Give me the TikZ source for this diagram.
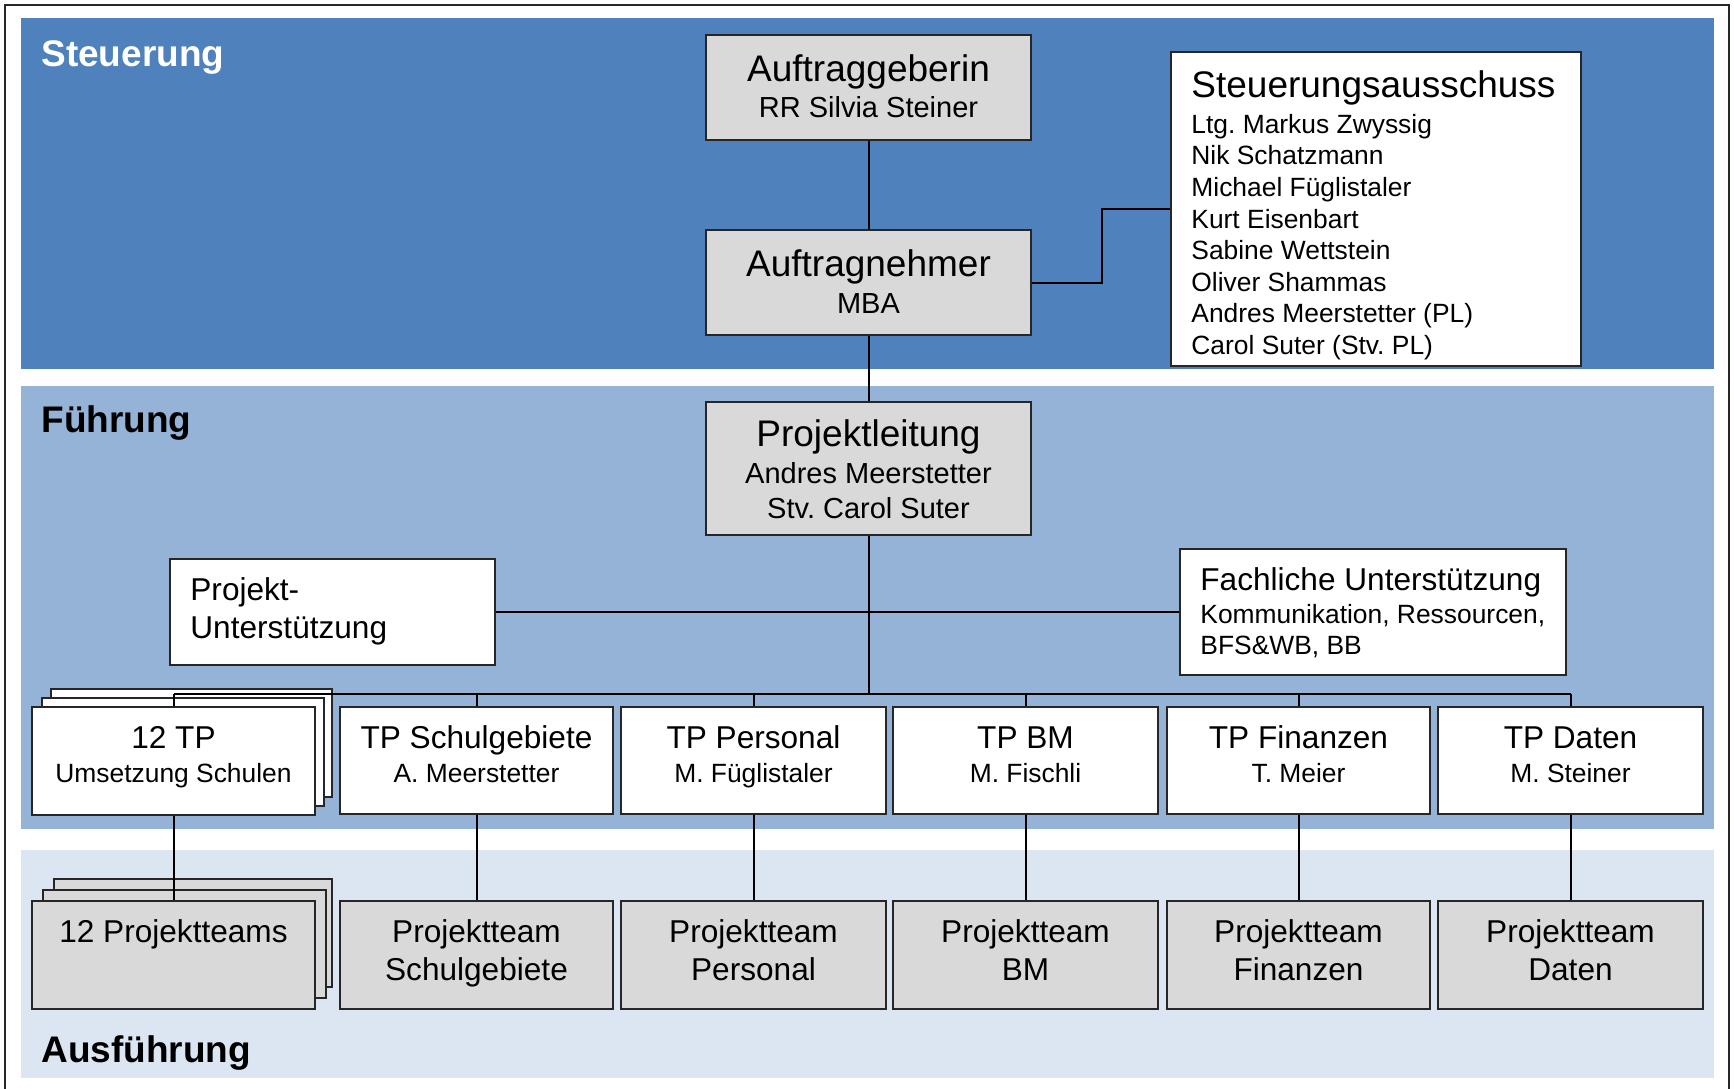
\documentclass[tikz,border=0pt]{standalone}
\usepackage{fontspec}
\setmainfont{Liberation Sans}
\usetikzlibrary{fit}
\definecolor{bandA}{HTML}{4F81BD}
\definecolor{bandB}{HTML}{95B3D7}
\definecolor{bandC}{HTML}{DCE6F2}
\definecolor{boxgrey}{HTML}{D9D9D9}
\definecolor{boxline}{HTML}{262626}
\frenchspacing
\begin{document}
\begin{tikzpicture}[x=0.5pt,y=-0.5pt,
  box/.style={draw=boxline, line width=0.75pt, rectangle, inner sep=0pt},
  gbox/.style={box, fill=boxgrey},
  wbox/.style={box, fill=white},
  conn/.style={draw=black, line width=1pt},
  txt/.style={inner sep=0pt, anchor=base, text=black},
  tA/.style={txt, font=\frenchspacing\fontsize{18.5}{22}\selectfont},
  tB/.style={txt, font=\frenchspacing\fontsize{14.5}{17}\selectfont},
  tC/.style={txt, font=\frenchspacing\fontsize{15.8}{19}\selectfont},
  tD/.style={txt, font=\frenchspacing\fontsize{13.2}{16}\selectfont},
  tS/.style={txt, anchor=base west, font=\fontsize{18.5}{22}\selectfont\bfseries},
]
\useasboundingbox (0,0) rectangle (1734,1088);
\fill[white] (0,0) rectangle (1734,1088);
% frame
\draw[line width=1pt, black!85] (5,1095) -- (5,5) -- (1729,5) -- (1729,1095);
% bands
\fill[bandA] (21,18) rectangle (1714,369);
\fill[bandB] (21,386) rectangle (1714,829);
\fill[bandC] (21,850) rectangle (1714,1078);
% section titles
\node[tS, text=white] (tSteuer) at (41,66) {Steuerung};
\node[tS] (tFuehr) at (41,432) {Führung};
\node[tS] (tAusf) at (41,1062) {Ausführung};

% Steuerung level
\node[gbox, fit={(706,35) (1031,140)}] (ag) {};
\node[tA] (agT) at (868.5,81) {Auftraggeberin};
\node[tB] (agS) at (868.5,117) {RR Silvia Steiner};

\node[gbox, fit={(706,230) (1031,335)}] (an) {};
\node[tA] (anT) at (868.5,276) {Auftragnehmer};
\node[tB] (anS) at (868.5,313) {MBA};

\node[wbox, fit={(1171,52) (1581,366)}] (sa) {};
\node[tA, anchor=base west] (saT) at (1191,97) {Steuerungsausschuss};
\foreach \n/\t in {0/Ltg. Markus Zwyssig,1/Nik Schatzmann,2/Michael Füglistaler,3/Kurt Eisenbart,4/Sabine Wettstein,5/Oliver Shammas,6/Andres Meerstetter (PL),7/Carol Suter (Stv. PL)}
  \node[tD, anchor=base west] (saM\n) at (1191,133.3+31.6*\n) {\t};

% Fuehrung level
\node[gbox, fit={(706,402) (1031,535)}] (pl) {};
\node[tA] (plT) at (868.5,446) {Projektleitung};
\node[tB] (plS1) at (868.5,483) {Andres Meerstetter};
\node[tB] (plS2) at (868.5,518) {Stv. Carol Suter};

\node[wbox, fit={(170,559) (495,665)}] (pu) {};
\node[tC, anchor=base west] (puT1) at (190,600) {Projekt-};
\node[tC, anchor=base west] (puT2) at (190,638) {Unterstützung};

\node[wbox, fit={(1180,549) (1566,675)}] (fu) {};
\node[tC, anchor=base west] (fuT) at (1200,590) {Fachliche Unterstützung};
\node[tD, anchor=base west] (fuS1) at (1200,623) {Kommunikation, Ressourcen,};
\node[tD, anchor=base west] (fuS2) at (1200,654) {BFS\&WB, BB};

% TP row
\path[wbox] (51,689) rectangle (332,797);
\path[wbox] (42,698) rectangle (324,806);
\node[wbox, fit={(32,707) (315,815)}] (tp0) {};
\node[wbox, fit={(340,707) (613,814)}] (tp1) {};
\node[wbox, fit={(621,707) (886,814)}] (tp2) {};
\node[wbox, fit={(893,707) (1158,814)}] (tp3) {};
\node[wbox, fit={(1167,707) (1430,814)}] (tp4) {};
\node[wbox, fit={(1438,707) (1703,814)}] (tp5) {};
\foreach \i/\a/\b in {0/12 TP/Umsetzung Schulen,1/TP Schulgebiete/A. Meerstetter,2/TP Personal/M. Füglistaler,3/TP BM/M. Fischli,4/TP Finanzen/T. Meier,5/TP Daten/M. Steiner}{
  \node[tC] (tp\i T) at (tp\i.center |- 0,748) {\a};
  \node[tD] (tp\i S) at (tp\i.center |- 0,782) {\b};
}

% Project team row
\path[gbox] (54,879) rectangle (332,987);
\path[gbox] (43,890) rectangle (326,998);
\node[gbox, fit={(32,901) (315,1009)}] (pt0) {};
\node[gbox, fit={(340,901) (613,1009)}] (pt1) {};
\node[gbox, fit={(621,901) (886,1009)}] (pt2) {};
\node[gbox, fit={(893,901) (1158,1009)}] (pt3) {};
\node[gbox, fit={(1167,901) (1430,1009)}] (pt4) {};
\node[gbox, fit={(1438,901) (1703,1009)}] (pt5) {};
\node[tC] (pt0T) at (pt0.center |- 0,942) {12 Projektteams};
\foreach \i/\b in {1/Schulgebiete,2/Personal,3/BM,4/Finanzen,5/Daten}{
  \node[tC] (pt\i T) at (pt\i.center |- 0,942) {Projektteam};
  \node[tC] (pt\i S) at (pt\i.center |- 0,980) {\b};
}

% connectors
\coordinate (busL) at (tp0.north |- 0,694);
\coordinate (busR) at (tp5.north |- 0,694);
\draw[conn] (ag.south) -- (an.north);
\draw[conn] (an.east) -- ++(70,0) |- (sa.west);
\draw[conn] (an.south) -- (pl.north);
\draw[conn] (pl.south) -- (pl.south |- busL);
\draw[conn] (pu.east) -- (fu.west);
\draw[conn] (busL) -- (busR);
\foreach \i in {0,...,5}{
  \draw[conn] (tp\i.north |- busL) -- (tp\i.north);
  \draw[conn] (tp\i.south) -- (pt\i.north);
}
\end{tikzpicture}
\end{document}
